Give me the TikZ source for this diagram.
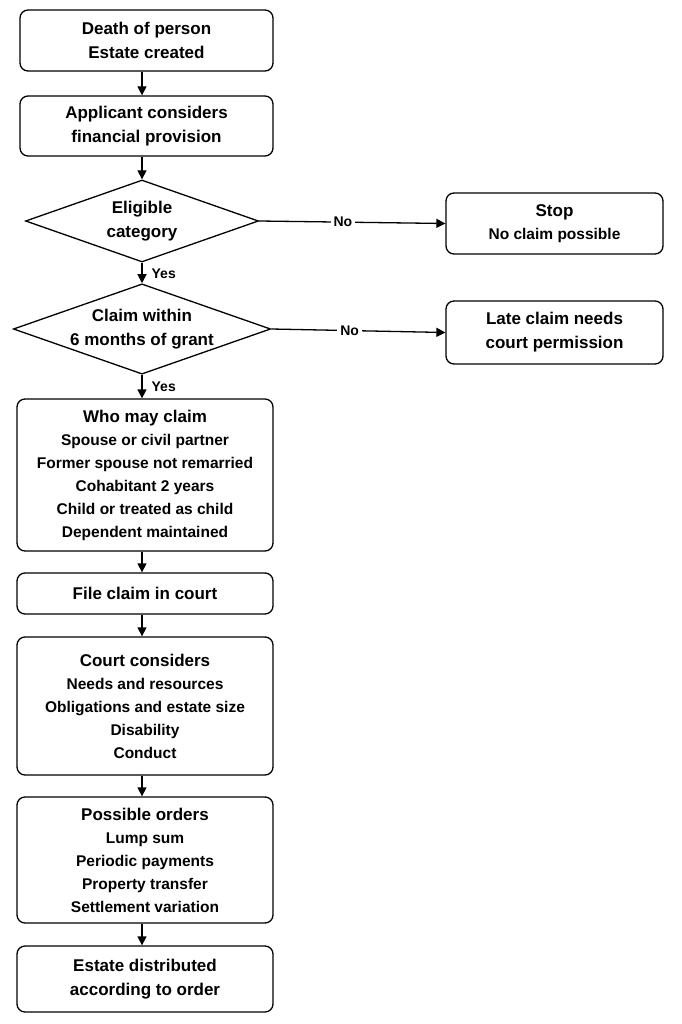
\documentclass[tikz,border=0pt]{standalone}
\usepackage{fontspec}
\setmainfont{Liberation Sans}
\usetikzlibrary{shapes.geometric,arrows.meta}
\newcommand{\ttl}[1]{{\fontsize{17}{24}\selectfont #1}}
\begin{document}
\begin{tikzpicture}[x=1pt,y=-1pt,
 box/.style={draw,line width=1.3pt,rounded corners=8pt,align=center,inner sep=0pt},
 dia/.style={draw,line width=1.3pt,diamond,aspect=2.85,align=center,inner sep=0pt,minimum width=233pt,minimum height=82pt},
 t/.style={font=\fontsize{17}{24}\selectfont\bfseries},
 b/.style={font=\fontsize{15.5}{23}\selectfont\bfseries},
 arr/.style={line width=1.3pt,-{Triangle[length=9pt,width=9pt]}},
 lab/.style={fill=white,font=\fontsize{14}{16}\selectfont\bfseries,inner sep=3pt}]
\useasboundingbox (0,0) rectangle (681,1024);
\node[box,minimum width=253pt,minimum height=61pt,t] (a) at (146.5,40.5) {Death of person\\Estate created};
\node[box,minimum width=253pt,minimum height=60pt,t] (b) at (146.5,126) {Applicant considers\\financial provision};
\node[dia,t] (c) at (142,221) {Eligible\\category};
\node[box,minimum width=217pt,minimum height=61pt,b] (s) at (554.5,223.5) {\ttl{Stop}\\No claim possible};
\node[dia,t] (d) at (142,329) {Claim within\\6 months of grant};
\node[box,minimum width=217pt,minimum height=63pt,t] (l) at (554.5,332.5) {Late claim needs\\court permission};
\node[box,minimum width=256pt,minimum height=152pt,b] (w) at (145,475) {\ttl{Who may claim}\\Spouse or civil partner\\Former spouse not remarried\\Cohabitant 2 years\\Child or treated as child\\Dependent maintained};
\node[box,minimum width=256pt,minimum height=41pt,t] (f) at (145,593.5) {File claim in court};
\node[box,minimum width=256pt,minimum height=138pt,b] (k) at (145,706) {\ttl{Court considers}\\Needs and resources\\Obligations and estate size\\Disability\\Conduct};
\node[box,minimum width=256pt,minimum height=126pt,b] (o) at (145,860) {\ttl{Possible orders}\\Lump sum\\Periodic payments\\Property transfer\\Settlement variation};
\node[box,minimum width=256pt,minimum height=66pt,t] (e) at (145,979) {Estate distributed\\according to order};
\draw[arr] (a.south -| 142,0) -- (b.north -| 142,0);
\draw[arr] (b.south -| 142,0) -- (c.north);
\draw[arr] (c.east) -- node[lab,pos=0.45]{No} (s.west);
\draw[arr] (c.south) -- node[lab,right,pos=0.55,xshift=6pt,fill=none]{Yes} (d.north);
\draw[arr] (d.east) -- node[lab,pos=0.45]{No} (l.west);
\draw[arr] (d.south) -- node[lab,right,pos=0.5,xshift=6pt,fill=none]{Yes} (w.north -| 142,0);
\draw[arr] (w.south -| 142,0) -- (f.north -| 142,0);
\draw[arr] (f.south -| 142,0) -- (k.north -| 142,0);
\draw[arr] (k.south -| 142,0) -- (o.north -| 142,0);
\draw[arr] (o.south -| 142,0) -- (e.north -| 142,0);
\end{tikzpicture}
\end{document}
